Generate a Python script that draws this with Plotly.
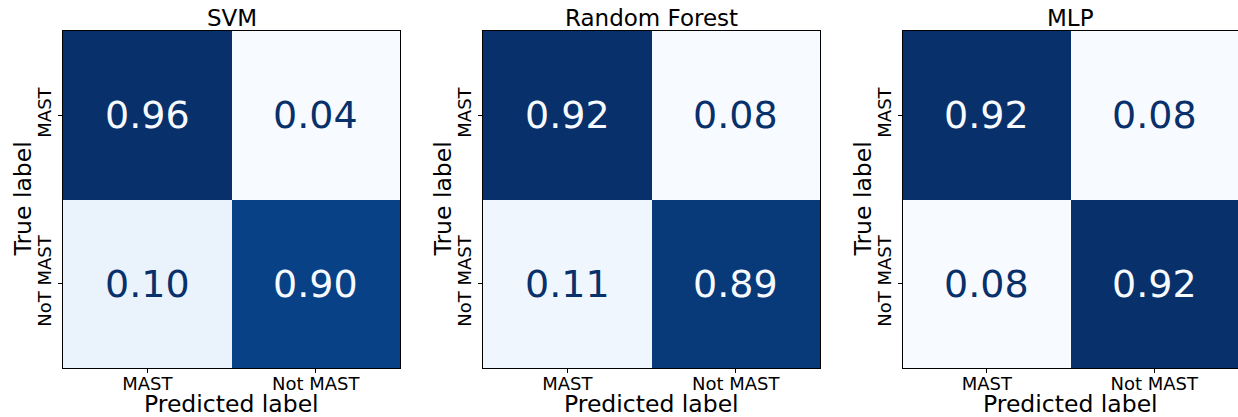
import plotly.graph_objects as go

titles = ["SVM", "Random Forest", "MLP"]
pred_labels = ["MAST", "Not MAST"]
true_labels = ["MAST", "NoT MAST"]
svm = [[0.96, 0.04], [0.10, 0.90]]
rf = [[0.92, 0.08], [0.11, 0.89]]
mlp = [[0.92, 0.08], [0.08, 0.92]]
matrices = [svm, rf, mlp]

W, H = 1238, 417
FONT = "DejaVu Sans"
DARK = "#08306b"
LIGHT = "#f7fbff"

x_domains = [(63 / W, 400 / W), (483 / W, 820 / W), (903 / W, 1.0)]
y_domain = (1 - 368 / H, 1 - 31 / H)

fig = go.Figure()
for i, (m, t) in enumerate(zip(matrices, titles)):
    ax = "" if i == 0 else str(i + 1)
    flat = [v for row in m for v in row]
    zmin, zmax = min(flat), max(flat)
    fig.add_trace(go.Heatmap(
        z=m, x=[0, 1], y=[0, 1], colorscale="Blues", zmin=zmin, zmax=zmax,
        showscale=False, xaxis="x" + ax, yaxis="y" + ax, hoverinfo="skip",
    ))
    thresh = (zmin + zmax) / 2
    for r in range(2):
        for c in range(2):
            v = m[r][c]
            fig.add_annotation(
                x=c, y=r, xref="x" + ax, yref="y" + ax, text=f"{v:.2f}",
                showarrow=False,
                font=dict(family=FONT, size=38, color=LIGHT if v > thresh else DARK),
            )
    common = dict(showline=True, mirror=True, linecolor="black", linewidth=1,
                  ticks="outside", ticklen=4, tickcolor="black", showgrid=False,
                  zeroline=False, automargin=False,
                  tickfont=dict(family=FONT, size=18, color="black"))
    fig.update_layout({
        "xaxis" + ax: dict(domain=x_domains[i], range=[-0.5, 1.5], tickvals=[0, 1],
                           ticktext=pred_labels, anchor="y" + ax,
                           ticklabelstandoff=-5, **common),
        "yaxis" + ax: dict(domain=y_domain, range=[1.5, -0.5], tickvals=[0, 1],
                           ticktext=true_labels, anchor="x" + ax, tickangle=-90,
                           **common),
    })
    xc = (x_domains[i][0] + x_domains[i][1]) / 2
    fig.add_annotation(
        x=xc, y=1 - 18 / H, xref="paper", yref="paper",
        text=t, showarrow=False, font=dict(family=FONT, size=23, color="black"),
        xanchor="center", yanchor="middle",
    )
    fig.add_annotation(
        x=xc, y=1 - 404 / H, xref="paper", yref="paper",
        text="Predicted label", showarrow=False,
        font=dict(family=FONT, size=23.5, color="black"),
        xanchor="center", yanchor="middle",
    )
    fig.add_annotation(
        x=x_domains[i][0] - 40 / W, y=(y_domain[0] + y_domain[1]) / 2,
        xref="paper", yref="paper", text="True label", textangle=-90,
        showarrow=False, font=dict(family=FONT, size=23.5, color="black"),
        xanchor="center", yanchor="middle",
    )

fig.update_layout(width=W, height=H, margin=dict(l=0, r=0, t=0, b=0),
                  paper_bgcolor="white", plot_bgcolor="white",
                  font=dict(family=FONT))
fig.write_html("out.html", config={"displayModeBar": False},
               post_script="document.body.style.margin='0';document.body.style.overflow='hidden';")
